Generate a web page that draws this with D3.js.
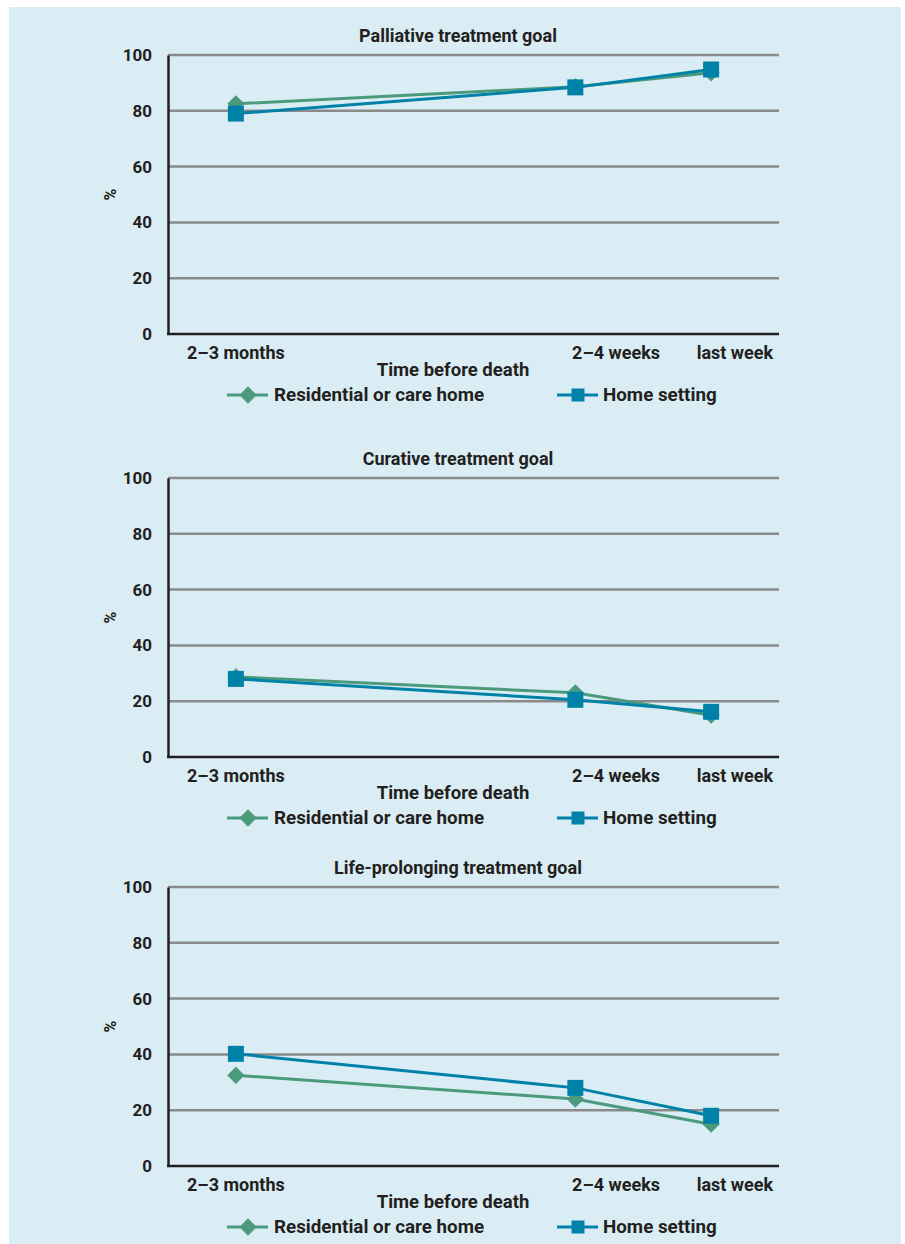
<!DOCTYPE html>
<html>
<head>
<meta charset="utf-8">
<script src="https://cdn.jsdelivr.net/npm/d3@7"></script>
<style>
  body { margin: 0; background: #fff; }
  text { font-family: Roboto, "DejaVu Sans Condensed", sans-serif; font-weight: 700; fill: #231f20; }
</style>
</head>
<body>
<svg id="chart" width="905" height="1244"></svg>
<script>
const categories = ["2–3 months", "2–4 weeks", "last week"];
const catPos = [0, 5, 7];          // where each period sits along the time axis
const labelPos = [0, 5.6, 7.35];   // where its label is centred
const yTicks = [0, 20, 40, 60, 80, 100];
const titles = ["Palliative treatment goal", "Curative treatment goal", "Life-prolonging treatment goal"];
const seriesNames = ["Residential or care home", "Home setting"];

const palliativeResidential = [82.5, 88.6, 93.6];
const palliativeHome = [79, 88.4, 94.8];
const curativeResidential = [28.7, 23, 15];
const curativeHome = [28, 20.5, 16.2];
const lifeResidential = [32.5, 24, 15];
const lifeHome = [40.2, 28, 18];

const residentialSets = [palliativeResidential, curativeResidential, lifeResidential];
const homeSets = [palliativeHome, curativeHome, lifeHome];

const green = "#4c9a7c";
const blue = "#0082a8";
const gridColor = "#8a8a8a";
const axisColor = "#231f20";

const svg = d3.select("#chart");
svg.append("rect")
    .attr("x", 9).attr("y", 7)
    .attr("width", 892).attr("height", 1237)
    .attr("fill", "#daedf4");

const panelTops = [55, 478, 887];
const plotH = 279;
const x = d3.scaleLinear().domain([-1, 8]).range([168, 779]);

const diamond = d3.symbol().type(d3.symbolSquare);
const square = d3.symbol().type(d3.symbolSquare);

function drawPanel(i) {
    const top = panelTops[i];
    const y = d3.scaleLinear().domain([0, 100]).range([top + plotH, top]);
    const g = svg.append("g");

    g.append("text")
        .attr("x", 458).attr("y", top - 13)
        .attr("text-anchor", "middle")
        .style("font-size", "18px")
        .text(titles[i]);

    // grid
    g.selectAll(".grid").data(yTicks.filter(d => d > 0)).join("line")
        .attr("x1", x.range()[0]).attr("x2", x.range()[1])
        .attr("y1", d => y(d)).attr("y2", d => y(d))
        .attr("stroke", gridColor).attr("stroke-width", 2.5);

    // y axis
    const yAxis = d3.axisLeft(y).tickValues(yTicks).tickSize(0).tickPadding(16);
    const ya = g.append("g").attr("transform", `translate(${x.range()[0]},0)`).call(yAxis);
    ya.select(".domain").attr("stroke", axisColor).attr("stroke-width", 2.5);
    ya.selectAll("text").style("font-size", "17px").attr("fill", axisColor)
        .attr("font-family", null);

    // x axis baseline
    g.append("line")
        .attr("x1", x.range()[0] - 1).attr("x2", x.range()[1])
        .attr("y1", y(0)).attr("y2", y(0))
        .attr("stroke", axisColor).attr("stroke-width", 2.5);

    g.selectAll(".xlab").data(categories).join("text")
        .attr("x", (d, k) => x(labelPos[k]))
        .attr("y", y(0) + 25)
        .attr("text-anchor", "middle")
        .style("font-size", "18px")
        .text(d => d);

    g.append("text")
        .attr("x", 453).attr("y", y(0) + 42)
        .attr("text-anchor", "middle")
        .style("font-size", "18.5px")
        .text("Time before death");

    g.append("text")
        .attr("transform", `translate(116,${top + plotH / 2}) rotate(-90)`)
        .attr("text-anchor", "middle")
        .style("font-size", "16px")
        .text("%");

    const line = d3.line().x((d, k) => x(catPos[k])).y(d => y(d));

    // residential (green, diamonds)
    g.append("path").datum(residentialSets[i])
        .attr("d", line).attr("fill", "none")
        .attr("stroke", green).attr("stroke-width", 3);
    g.selectAll(".dia").data(residentialSets[i]).join("path")
        .attr("d", diamond.size(150))
        .attr("transform", (d, k) => `translate(${x(catPos[k])},${y(d)}) rotate(45)`)
        .attr("fill", green);

    // home (blue, squares)
    g.append("path").datum(homeSets[i])
        .attr("d", line).attr("fill", "none")
        .attr("stroke", blue).attr("stroke-width", 3);
    g.selectAll(".sq").data(homeSets[i]).join("path")
        .attr("d", square.size(256))
        .attr("transform", (d, k) => `translate(${x(catPos[k])},${y(d)})`)
        .attr("fill", blue);

    // legend
    const ly = y(0) + 61;
    const leg = g.append("g");
    leg.append("line").attr("x1", 227).attr("x2", 268).attr("y1", ly).attr("y2", ly)
        .attr("stroke", green).attr("stroke-width", 3);
    leg.append("path").attr("d", diamond.size(150))
        .attr("transform", `translate(248,${ly}) rotate(45)`).attr("fill", green);
    leg.append("text").attr("x", 274).attr("y", ly + 6)
        .style("font-size", "18.8px").text(seriesNames[0]);

    leg.append("line").attr("x1", 557).attr("x2", 598).attr("y1", ly).attr("y2", ly)
        .attr("stroke", blue).attr("stroke-width", 3);
    leg.append("path").attr("d", square.size(169))
        .attr("transform", `translate(578,${ly})`).attr("fill", blue);
    leg.append("text").attr("x", 603).attr("y", ly + 6)
        .style("font-size", "18.8px").text(seriesNames[1]);
}

[0, 1, 2].forEach(drawPanel);
</script>
</body>
</html>
